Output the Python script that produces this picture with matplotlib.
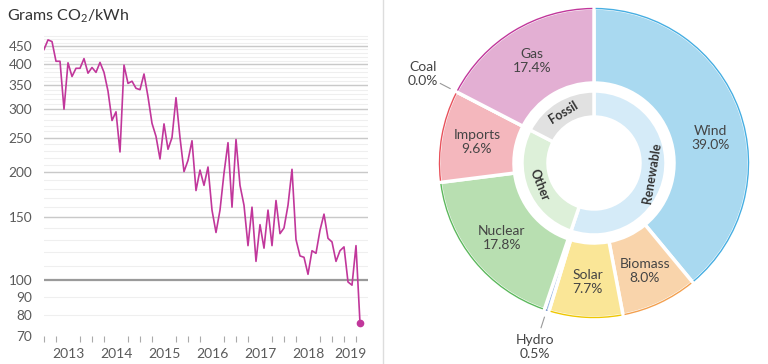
import numpy as np
import matplotlib.pyplot as plt
from matplotlib.lines import Line2D
from matplotlib.patches import Arc
from matplotlib.ticker import NullLocator
plt.switch_backend('agg')

plt.rcParams['font.family'] = ['Lato', 'DejaVu Sans']
plt.rcParams['mathtext.fontset'] = 'custom'
plt.rcParams['mathtext.rm'] = 'Lato'

# monthly carbon intensity, Jan 2013 .. Aug 2019 (g CO2/kWh)
intensity = [440, 468, 463, 408, 408, 300, 404, 370, 390, 390,
             415, 378, 392, 380, 405, 380, 337, 279, 295, 228,
             398, 354, 359, 343, 340, 376, 325, 274, 252, 218,
             273, 232, 250, 323, 250, 201, 216, 245, 178, 203,
             184, 207, 157, 136, 157, 199, 242, 160, 247, 184,
             162, 125, 160, 113, 143, 123, 157, 125, 167, 135,
             140, 162, 204, 130, 117, 116, 104, 121, 119, 138,
             153, 131, 128, 113, 121, 124, 99, 97, 125, 76]
years = ['2013', '2014', '2015', '2016', '2017', '2018', '2019']
ytick_vals = [70, 80, 90, 100, 150, 200, 250, 300, 350, 400, 450]

# generation mix (outer ring) and groups (inner ring)
sources = ['Wind', 'Biomass', 'Solar', 'Hydro', 'Nuclear', 'Imports', 'Coal', 'Gas']
shares = [39.0, 8.0, 7.7, 0.5, 17.8, 9.6, 0.0, 17.4]
groups = ['Renewable', 'Other', 'Fossil']
group_shares = [55.2, 27.4, 17.4]

line_col = '#c1379b'
fills = ['#a9d9f0', '#f9d4ab', '#fae697', '#9db9e2', '#b8dfb1', '#f4b7bd', '#cccccc', '#e3afd3']
edges = ['#46aee2', '#f3a04f', '#efc700', '#5b80c2', '#5cb85c', '#e8515b', '#999999', '#c1379b']
group_fills = ['#d5ebf8', '#ddf0d9', '#e1e1e1']

fig = plt.figure(figsize=(7.68, 3.64), dpi=100)

# ---- line chart ----
ax = fig.add_axes([43.6 / 768, 1 - 336 / 364, 324.4 / 768, 302 / 364])
months = np.arange(len(intensity))
ax.set_yscale('log')
ax.set_xlim(-0.1, 81)
ax.set_ylim(70, 486)

for v in range(80, 490, 10):
    ax.axhline(v, color='#efefef', lw=0.8, zorder=0)
for v in [150, 200, 250, 300, 350, 400, 450]:
    ax.axhline(v, color='#c9c9c9', lw=1.0, zorder=1)
ax.axhline(100, color='#9a9a9a', lw=1.6, zorder=1)

ax.plot(months, intensity, color=line_col, lw=1.2, zorder=3)
ax.plot(months[-1], intensity[-1], 'o', color=line_col, ms=4.5, zorder=4)

ax.yaxis.set_minor_locator(NullLocator())
ax.set_yticks(ytick_vals, labels=[str(v) for v in ytick_vals])
ax.tick_params(axis='y', length=0, pad=8, labelsize=9.8, labelcolor='#5a5a5a')

xmax = ax.get_xlim()[1]
centers = [(12 * k + min(12 * k + 12, xmax)) / 2 for k in range(len(years))]
ax.set_xticks(centers, labels=years)
ax.set_xticks(np.arange(0, 80, 3), minor=True)
ax.tick_params(axis='x', which='major', length=0, pad=9, labelsize=10, labelcolor='#5a5a5a')
ax.tick_params(axis='x', which='minor', length=4, width=0.8, color='#aaaaaa', direction='out')
for s in ax.spines.values():
    s.set_visible(False)

fig.text(7 / 768, 1 - 16 / 364, 'Grams CO$_2$/kWh', fontsize=11.5, color='#333333',
         va='center', ha='left')

fig.add_artist(Line2D([383 / 768, 383 / 768], [0, 1], color='#dddddd', lw=1))

# ---- donut ----
ax2 = fig.add_axes([390 / 768, 0, 378 / 768, 1])
R, W = 155, 75
outer, _ = ax2.pie(shares, radius=R, startangle=90, counterclock=False, colors=fills,
                   wedgeprops=dict(width=W, edgecolor='white', linewidth=2.5))
for w, ec in zip(outer, edges):
    if w.theta2 - w.theta1 > 1.5:
        ax2.add_patch(Arc((0, 0), 2 * R - 1, 2 * R - 1, theta1=w.theta1 + 0.6,
                          theta2=w.theta2 - 0.6, color=ec, lw=1))

label_angle = {'Wind': 12}
for w, name, val in zip(outer, sources, shares):
    ang = label_angle.get(name, (w.theta1 + w.theta2) / 2)
    a = np.deg2rad(ang)
    txt = '%s\n%.1f%%' % (name, val)
    if val >= 1:
        r = 119
        ax2.text(r * np.cos(a), r * np.sin(a), txt, ha='center', va='center',
                 fontsize=10, color='#444444', linespacing=1.2)
    else:
        ax2.plot([162 * np.cos(a), 173 * np.cos(a)], [162 * np.sin(a), 173 * np.sin(a)],
                 color='#999999', lw=0.8)
        r = 193
        ax2.text(r * np.cos(a), r * np.sin(a), txt, ha='center', va='center',
                 fontsize=10, color='#444444', linespacing=1.2)

inner, _ = ax2.pie(group_shares, radius=72, startangle=90, counterclock=False,
                   colors=group_fills,
                   wedgeprops=dict(width=26, edgecolor='white', linewidth=2.5))
for w, name in zip(inner, groups):
    ang = (w.theta1 + w.theta2) / 2
    a = np.deg2rad(ang)
    rot = (ang - 90) % 360
    if rot > 180:
        rot -= 360
    if rot > 90:
        rot -= 180
    elif rot <= -90:
        rot += 180
    ax2.text(59 * np.cos(a), 59 * np.sin(a), name, ha='center', va='center',
             rotation=rot, rotation_mode='anchor', fontsize=9, fontweight='bold',
             color='#333333')

ax2.set_xlim(-204, 174)
ax2.set_ylim(-201, 163)
ax2.set_aspect('equal')
ax2.axis('off')

fig.savefig('out.png', dpi=100)
